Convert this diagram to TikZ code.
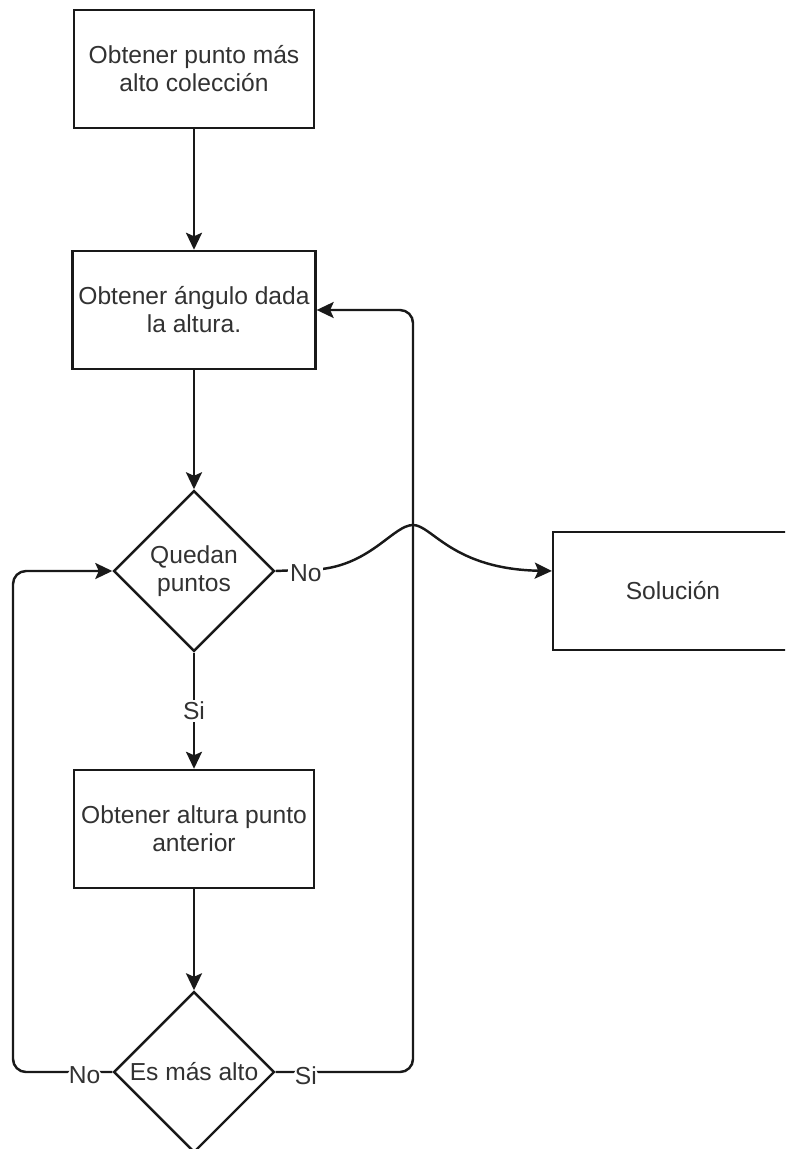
\documentclass[tikz,border=0pt]{standalone}
\usepackage{fontspec}
\setmainfont{Liberation Sans}
\usetikzlibrary{shapes.geometric,arrows.meta}
\definecolor{txt}{RGB}{50,50,50}
\definecolor{ln}{RGB}{25,25,25}
\tikzset{
  box/.style={draw=ln,line width=1.4pt,minimum width=4.8cm,minimum height=2.36cm,
    align=center,font=\fontsize{14}{16}\selectfont,text=txt},
  decision/.style={draw=ln,line width=1.4pt,diamond,aspect=1,inner sep=0pt,
    minimum width=3.22cm,minimum height=3.22cm,align=center,
    font=\fontsize{14}{16}\selectfont,text=txt},
  lbl/.style={fill=white,inner sep=1pt,font=\fontsize{14}{16}\selectfont,text=txt},
  arrow/.style={draw=ln,line width=1.4pt,-{Stealth[length=0.34cm,width=0.32cm,inset=0.07cm]}}
}
\begin{document}
\begin{tikzpicture}[x=0.02cm,y=-0.02cm]
\useasboundingbox (0,0) rectangle (785,1149);
\clip (0,0) rectangle (785,1149);
% nodes
\node[box] (top) at (194,69) {Obtener punto más\\alto colección};
\node[box] (ang) at (194,310) {Obtener ángulo dada\\la altura.};
\node[decision] (quedan) at (194,571) {Quedan\\puntos};
\node[box] (sol) at (673,591) {Solución};
\node[box] (alt) at (194,829) {Obtener altura punto\\anterior};
\node[decision] (mas) at (194,1072) {Es más alto};
% helper points
\coordinate (lft) at (13,0);
\coordinate (rgt) at (413,0);
\coordinate (hop) at (322,569);
\coordinate (peak) at (413,525);
% connectors
\draw[arrow] (top) -- (ang);
\draw[arrow] (ang) -- (quedan);
\draw[arrow] (quedan) -- node[lbl]{Si} (alt);
\draw[arrow] (alt) -- (mas);
\draw[arrow] (quedan.east) -- node[lbl,pos=0.65,yshift=-2pt]{No} (hop)
  .. controls (372,563) and (394,525) .. (peak)
  .. controls (432,525) and (452,569) .. (sol.west |- quedan.east);
\draw[arrow,rounded corners=0.26cm] (mas.west) -- node[lbl,pos=0.28,yshift=-2pt]{No}
  (mas.west -| lft) -- (quedan.west -| lft) -- (quedan.west);
\draw[arrow,rounded corners=0.26cm] (mas.east) -- node[lbl,pos=0.22,yshift=-2pt]{Si}
  (mas.east -| rgt) -- (ang.east -| rgt) -- (ang.east);
\end{tikzpicture}
\end{document}
